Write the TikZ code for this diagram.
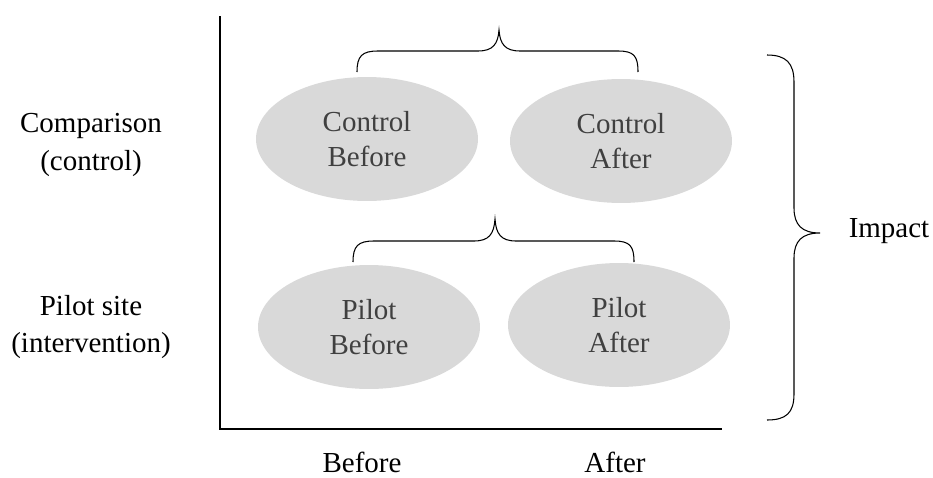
\documentclass[tikz,border=0pt]{standalone}
\usepackage{fontspec}
\setmainfont{Liberation Serif}
\usetikzlibrary{shapes.geometric}

\tikzset{
  cell/.style={ellipse, fill=black!15, text=black!75, minimum width=4.44cm,
    minimum height=2.48cm, inner sep=0pt, align=center,
    font=\fontsize{16.5}{20}\selectfont},
  lbl/.style={align=center, font=\fontsize{16.5}{21.5}\selectfont},
  curly/.style={line width=0.6pt}
}

\begin{document}
\begin{tikzpicture}[x=0.02cm, y=-0.02cm]
  \useasboundingbox (0,0) rectangle (933,477);

  % Axes
  \draw[line width=0.8pt] (220,16) -- (220,429) -- (722,429);

  % Groups on the left
  \node[lbl] (comp) at (91,145) {Comparison\\(control)};
  \node[lbl] (pilot) at (91,327) {Pilot site\\(intervention)};

  % Times below
  \node[lbl] (before) at (362,462) {Before};
  \node[lbl] (after) at (615,462) {After};

  % The four cells
  \node[cell] (cb) at (367,139) {Control\\Before};
  \node[cell] (ca) at (621,141) {Control\\After};
  \node[cell] (pb) at (369,327) {Pilot\\Before};
  \node[cell] (pa) at (619,325) {Pilot\\After};

  % Brace over the control cells
  \draw[curly] (357,72) .. controls (357,56) and (362,51) .. (378,51)
    -- (478,51) .. controls (493,51) and (498,44) .. (499,30)
    .. controls (500,44) and (505,51) .. (520,51)
    -- (618,51) .. controls (634,51) and (638,56) .. (638,72);

  % Brace over the pilot cells
  \draw[curly] (353,262) .. controls (353,246) and (358,241) .. (374,241)
    -- (474,241) .. controls (489,241) and (494,234) .. (495,219)
    .. controls (496,234) and (501,241) .. (516,241)
    -- (614,241) .. controls (630,241) and (634,246) .. (634,262);

  % Brace round both rows
  \draw[curly] (767,55) .. controls (786,55) and (794,63) .. (794,82)
    -- (794,208) .. controls (794,225) and (802,233) .. (820,233)
    .. controls (802,233) and (794,241) .. (794,258)
    -- (794,394) .. controls (794,413) and (786,420) .. (767,420);
  \node[lbl] (impact) at (889,231) {Impact};

\end{tikzpicture}
\end{document}
